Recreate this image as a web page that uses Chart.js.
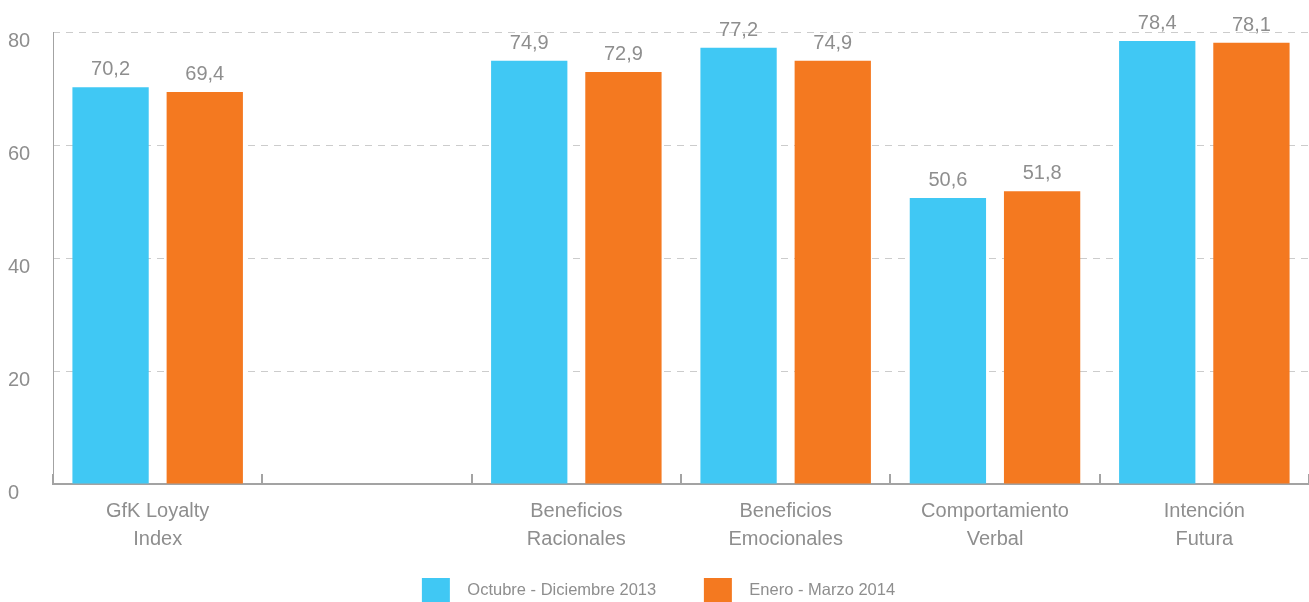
<!DOCTYPE html>
<html lang="es">
<head>
<meta charset="utf-8"/>
<title>GfK Loyalty Index</title>
<script src="https://cdn.jsdelivr.net/npm/chart.js@4.4.1/dist/chart.umd.min.js"></script>
<style>
    body { margin: 0; background: #fff; }
    .wrap { width: 1309px; height: 602px; position: relative; overflow: hidden; }
</style>
</head>
<body>
<div class="wrap">
    <canvas id="chart1"></canvas>
</div>
<script>
    // categories (the blank one is an empty slot in the original)
    var categories = [
        ['GfK Loyalty', 'Index'],
        '',
        ['Beneficios', 'Racionales'],
        ['Beneficios', 'Emocionales'],
        ['Comportamiento', 'Verbal'],
        ['Intención', 'Futura']
    ];
    var octDic2013 = [70.2, null, 74.9, 77.2, 50.6, 78.4];
    var eneMar2014 = [69.4, null, 72.9, 74.9, 51.8, 78.1];
    var yTicks = [0, 20, 40, 60, 80];

    var grey = '#8e8e8e';
    var axisGrey = '#a3a3a3';
    var fontFamily = "'Liberation Sans', Helvetica, Arial, sans-serif";

    // value labels above each bar, decimal comma
    var barValues = {
        id: 'barValues',
        afterDatasetsDraw: function (chart) {
            var ctx = chart.ctx;
            ctx.save();
            ctx.font = '20px ' + fontFamily;
            ctx.fillStyle = grey;
            ctx.textAlign = 'center';
            ctx.textBaseline = 'alphabetic';
            chart.data.datasets.forEach(function (ds, i) {
                chart.getDatasetMeta(i).data.forEach(function (bar, j) {
                    var v = ds.data[j];
                    if (v == null) return;
                    ctx.fillText(v.toFixed(1).replace('.', ','), bar.x, bar.y - 12);
                });
            });
            ctx.restore();
        }
    };

    // solid y axis line + small upward tick marks at category boundaries
    var axisMarks = {
        id: 'axisMarks',
        afterDraw: function (chart) {
            var xs = chart.scales.x;
            var area = chart.chartArea;
            var ctx = chart.ctx;
            var step = xs.width / categories.length;
            ctx.save();
            ctx.strokeStyle = axisGrey;
            ctx.lineWidth = 1;
            ctx.beginPath();
            ctx.moveTo(area.left + 0.5, area.top);
            ctx.lineTo(area.left + 0.5, area.bottom);
            ctx.stroke();
            ctx.lineWidth = 2;
            for (var i = 0; i <= categories.length; i++) {
                var x = Math.round(xs.left + i * step);
                ctx.beginPath();
                ctx.moveTo(x, xs.top);
                ctx.lineTo(x, xs.top - 10);
                ctx.stroke();
            }
            ctx.restore();
        }
    };

    var ch1 = document.getElementById('chart1').getContext('2d');
    var chart1 = new Chart(ch1, {
        type: 'bar',
        data: {
            labels: categories,
            datasets: [
                {
                    label: 'Octubre - Diciembre 2013',
                    data: octDic2013,
                    backgroundColor: '#40c8f4'
                },
                {
                    label: 'Enero - Marzo 2014',
                    data: eneMar2014,
                    backgroundColor: '#f47920'
                }
            ]
        },
        plugins: [barValues, axisMarks],
        options: {
            responsive: true,
            maintainAspectRatio: false,
            animation: false,
            categoryPercentage: 0.9,
            barPercentage: 0.81,
            layout: { padding: { left: 8, top: 32, right: 0, bottom: -10 } },
            plugins: {
                tooltip: { enabled: false },
                legend: {
                    position: 'bottom',
                    labels: {
                        boxWidth: 28,
                        boxHeight: 24,
                        padding: 11,
                        color: grey,
                        font: { family: fontFamily, size: 16.5 },
                        generateLabels: function (chart) {
                            var items = Chart.defaults.plugins.legend.labels.generateLabels(chart);
                            items.forEach(function (it, i) {
                                // a bit more room between box and text, and between items
                                it.text = '  ' + it.text + (i === 0 ? '        ' : '');
                            });
                            return items;
                        }
                    }
                }
            },
            scales: {
                x: {
                    grid: { display: false },
                    border: { color: axisGrey, width: 2 },
                    afterFit: function (scale) { scale.height += 9; },
                    ticks: {
                        color: grey,
                        padding: 5,
                        maxRotation: 0,
                        autoSkip: false,
                        font: { family: fontFamily, size: 20, lineHeight: 1.4 }
                    }
                },
                y: {
                    min: 0,
                    max: 80,
                    afterBuildTicks: function (scale) {
                        scale.ticks = yTicks.map(function (v) { return { value: v }; });
                    },
                    afterFit: function (scale) { scale.width = 45; },
                    grid: {
                        color: function (c) { return c.tick.value === 0 ? 'rgba(0,0,0,0)' : '#cccccc'; },
                        drawTicks: false
                    },
                    border: { display: false, dash: [7, 6] },
                    ticks: {
                        color: grey,
                        crossAlign: 'far',
                        labelOffset: 9,
                        padding: 0,
                        font: { family: fontFamily, size: 20 }
                    }
                }
            }
        }
    });
</script>
</body>
</html>
